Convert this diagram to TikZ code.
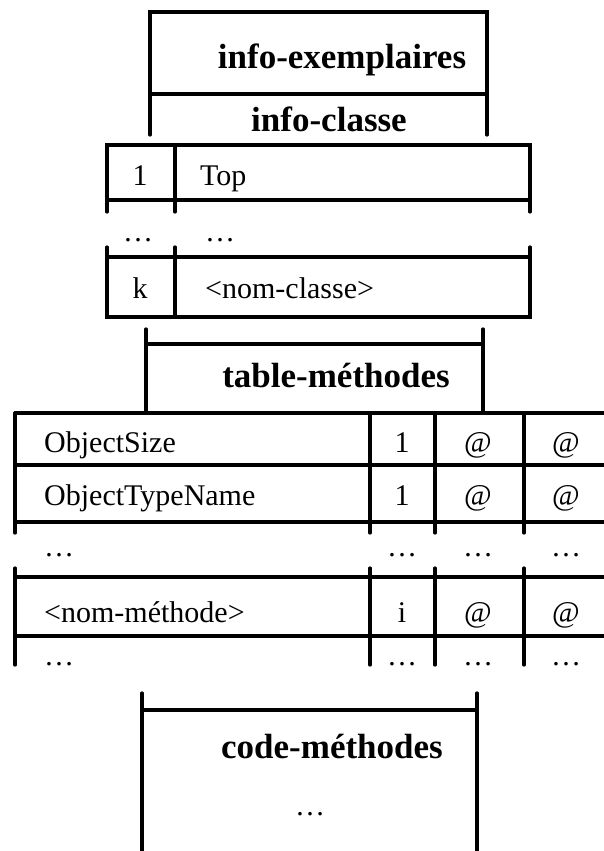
\documentclass[tikz,border=0pt]{standalone}
\usepackage{fontspec}
\setmainfont{Liberation Serif}
\usetikzlibrary{positioning}

\tikzset{
	cadre/.style={line width=3.2pt, line cap=round},
	titre/.style={font=\fontsize{35}{40}\selectfont\bfseries, inner sep=0pt, anchor=base},
	champ/.style={font=\fontsize{30}{36}\selectfont, inner sep=0pt, anchor=base},
	gauche/.style={champ, anchor=base west}
}

\begin{document}
\begin{tikzpicture}[x=1pt,y=-1pt]
	\useasboundingbox (0,0) rectangle (604,851);
	% info-exemplaires / info-classe
	\draw[cadre] (150,135) -- (150,12) -- (487,12) -- (487,135);
	\draw[cadre] (150,94) -- (487,94);
	\node[titre] (exemp) at (342,68) {info-exemplaires};
	\node[titre] (classe) at (329,131) {info-classe};
	% table des classes
	\draw[cadre] (107,212) -- (107,145) -- (530,145) -- (530,212);
	\draw[cadre] (175,145) -- (175,212);
	\draw[cadre] (107,200) -- (530,200);
	\draw[cadre] (107,247) -- (107,317) -- (530,317) -- (530,247);
	\draw[cadre] (175,247) -- (175,317);
	\draw[cadre] (107,257) -- (530,257);
	\node[champ] (num1) at (140,185) {1};
	\node[gauche] (top) at (200,185) {Top};
	\node[champ] (pts1) at (138,241) {\dots};
	\node[gauche] (pts2) at (205,241) {\dots};
	\node[champ] (numk) at (140,298) {k};
	\node[gauche] (nomc) at (205,298) {<nom-classe>};
	% table-methodes
	\draw[cadre] (146,329) -- (146,413);
	\draw[cadre] (483,329) -- (483,413);
	\draw[cadre] (146,344) -- (483,344);
	\node[titre] (tabm) at (336,387) {table-méthodes};
	% lignes de la table
	\foreach \y in {413,465,522,577,636}
		\draw[cadre] (15,\y) -- (606,\y);
	\foreach \x in {15,370,435,524} {
		\draw[cadre] (\x,413) -- (\x,533);
		\draw[cadre] (\x,568) -- (\x,665);
	}
	\node[gauche] (osize) at (44,452) {ObjectSize};
	\node[champ] (n1) at (402,452) {1};
	\node[champ] (a1) at (478,452) {@};
	\node[champ] (b1) at (566,452) {@};
	\node[gauche] (otype) at (44,505) {ObjectTypeName};
	\node[champ] (n2) at (402,505) {1};
	\node[champ] (a2) at (478,505) {@};
	\node[champ] (b2) at (566,505) {@};
	\node[gauche] (d1) at (44,556) {\dots};
	\node[champ] (d2) at (402,556) {\dots};
	\node[champ] (d3) at (478,556) {\dots};
	\node[champ] (d4) at (566,556) {\dots};
	\node[gauche] (nomm) at (44,622) {<nom-méthode>};
	\node[champ] (ni) at (402,622) {i};
	\node[champ] (ai) at (478,622) {@};
	\node[champ] (bi) at (566,622) {@};
	\node[gauche] (e1) at (44,665) {\dots};
	\node[champ] (e2) at (402,665) {\dots};
	\node[champ] (e3) at (478,665) {\dots};
	\node[champ] (e4) at (566,665) {\dots};
	% code-methodes
	\draw[cadre] (142,693) -- (142,855);
	\draw[cadre] (477,693) -- (477,855);
	\draw[cadre] (142,710) -- (477,710);
	\node[titre] (codem) at (332,758) {code-méthodes};
	\node[champ] (pts3) at (310,815) {\dots};
\end{tikzpicture}
\end{document}
